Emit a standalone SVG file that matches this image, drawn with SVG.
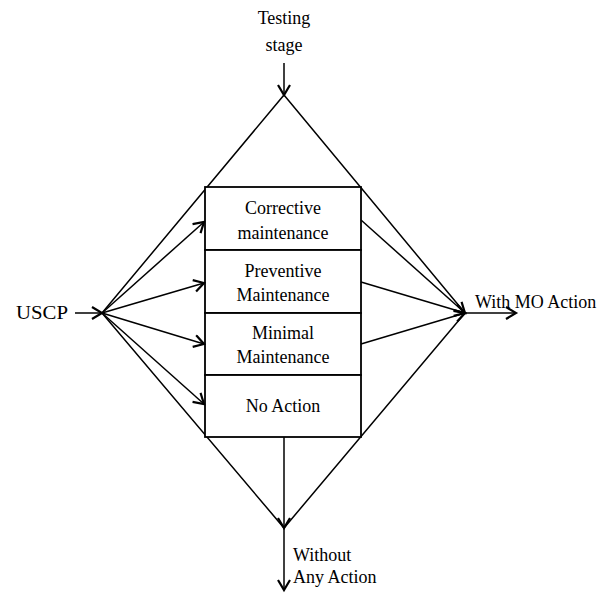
<svg xmlns="http://www.w3.org/2000/svg" width="600" height="593" viewBox="0 0 600 593">
  <style>
    .ln { stroke: #000; stroke-width: 1.5; fill: none; }
    .ar { stroke: #000; stroke-width: 1.5; fill: none; marker-end: url(#head); }
    .box { stroke: #000; stroke-width: 1.8; fill: #fff; }
    text { font-family: "Liberation Serif", "Times New Roman", serif; font-size: 18px; fill: #000; }
    .c { text-anchor: middle; }
  </style>
  <defs>
    <marker id="head" markerUnits="userSpaceOnUse" markerWidth="14" markerHeight="16" refX="11" refY="7" orient="auto">
      <path d="M1,1 L11,7 L1,13" stroke="#000" stroke-width="2.2" fill="none"/>
    </marker>
  </defs>

  <rect width="600" height="593" fill="#fff"/>

  <!-- diamond outline -->
  <g id="diamond">
    <polygon class="ln" points="284,95 465,313 284,528 102,313"/>
  </g>

  <!-- maintenance options stacked in one column -->
  <g id="corrective">
    <rect class="box" x="205" y="187" width="156" height="63"/>
    <text class="c" x="283" y="214">Corrective</text>
    <text class="c" x="283" y="239">maintenance</text>
  </g>
  <g id="preventive">
    <rect class="box" x="205" y="250" width="156" height="63"/>
    <text class="c" x="283" y="277">Preventive</text>
    <text class="c" x="283" y="301">Maintenance</text>
  </g>
  <g id="minimal">
    <rect class="box" x="205" y="313" width="156" height="62"/>
    <text class="c" x="283" y="339">Minimal</text>
    <text class="c" x="283" y="363">Maintenance</text>
  </g>
  <g id="noaction">
    <rect class="box" x="205" y="375" width="156" height="62"/>
    <text class="c" x="283" y="412">No Action</text>
  </g>

  <!-- labels -->
  <g id="testing">
    <text class="c" x="284" y="24">Testing</text>
    <text class="c" x="284" y="51">stage</text>
  </g>
  <g id="uscp">
    <text x="16" y="319" textLength="52" lengthAdjust="spacingAndGlyphs">USCP</text>
  </g>
  <g id="withmo">
    <text x="475" y="308">With MO Action</text>
  </g>
  <g id="without">
    <text x="293" y="561">Without</text>
    <text x="293" y="583">Any Action</text>
  </g>

  <!-- connectors -->
  <g id="connectors">
    <line class="ar" x1="284" y1="63" x2="284" y2="95"/>
    <line class="ar" x1="75" y1="313" x2="102" y2="313"/>
    <line class="ar" x1="102" y1="313" x2="204" y2="222"/>
    <line class="ar" x1="102" y1="313" x2="204" y2="283"/>
    <line class="ar" x1="102" y1="313" x2="204" y2="344"/>
    <line class="ar" x1="102" y1="313" x2="204" y2="404"/>
    <line class="ar" x1="361" y1="220" x2="465" y2="313"/>
    <line class="ar" x1="361" y1="282" x2="465" y2="313"/>
    <line class="ar" x1="361" y1="344" x2="465" y2="313"/>
    <line class="ar" x1="465" y1="313" x2="516" y2="313"/>
    <line class="ar" x1="284" y1="437" x2="284" y2="528"/>
    <line class="ar" x1="284" y1="528" x2="284" y2="590"/>
  </g>
</svg>
